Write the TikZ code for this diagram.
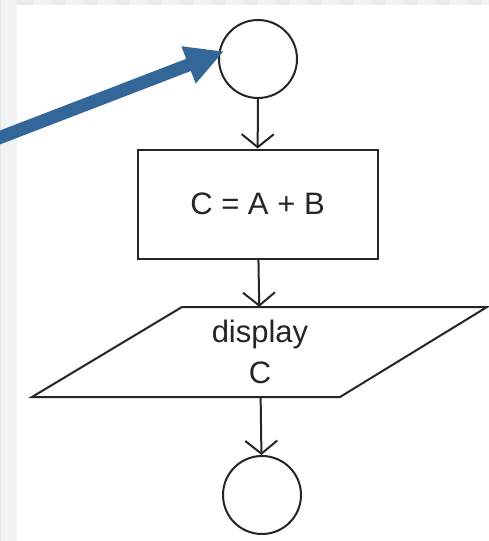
\documentclass[tikz,border=0pt]{standalone}
\usepackage{fontspec}
\setmainfont{Liberation Sans}
\usetikzlibrary{arrows.meta}

\definecolor{pointer}{RGB}{51,103,153}
\definecolor{stripA}{RGB}{235,235,235}
\definecolor{stripB}{RGB}{243,243,243}
\definecolor{margin}{RGB}{242,242,242}

\tikzset{
  flowline/.style={line width=2pt, black!85},
  terminal/.style={circle, draw=black!85, line width=2pt, minimum size=78pt, inner sep=0pt},
  process/.style={rectangle, draw=black!85, line width=2pt, minimum width=240pt, minimum height=109pt, inner sep=0pt},
  iobox/.style={rectangle, minimum width=150pt, minimum height=90pt, inner sep=0pt, align=center},
  flowarrow/.style={flowline, -{Straight Barb[length=13pt, width=32pt]}},
  bigpointer/.style={pointer, line width=13pt, -{Triangle[length=38pt, width=37pt]}},
  label/.style={font=\fontsize{31}{41}\selectfont, text=black!85}
}

\begin{document}
\begin{tikzpicture}[x=1pt, y=-1pt]
  \useasboundingbox (0,0) rectangle (489,541);
  \clip (0,0) rectangle (489,541);

  % canvas background, left margin and ruler strip
  \fill[white] (0,0) rectangle (489,541);
  \fill[margin] (0,0) rectangle (17,541);
  \fill[black!10] (0,0) rectangle (1,541);
  \foreach \i in {0,...,29} {
    \pgfmathtruncatemacro{\odd}{mod(\i,2)}
    \ifnum\odd=0
      \fill[stripA] (17+16*\i,0) rectangle (33+16*\i,5);
    \else
      \fill[stripB] (17+16*\i,0) rectangle (33+16*\i,5);
    \fi
  }

  % flowchart symbols
  \node[terminal] (start) at (258,59) {};
  \node[process, label] (calc) at (257.5,204) {C = A + B};
  \node[iobox, label] (out) at (260,352) {display\\C};
  \draw[flowline, line join=miter] (182,307) -- (487,307) -- (340,397) -- (32,397) -- cycle;
  \node[terminal] (stop) at (262,495) {};

  % connectors
  \draw[flowarrow] (start) -- (calc);
  \draw[flowarrow] (calc) -- (out);
  \draw[flowarrow] (out) -- (stop);

  % pointer to the start symbol
  \coordinate (tail) at (-30,149);
  \draw[bigpointer, shorten >=-6pt] (tail) -- (start.172);
\end{tikzpicture}
\end{document}
